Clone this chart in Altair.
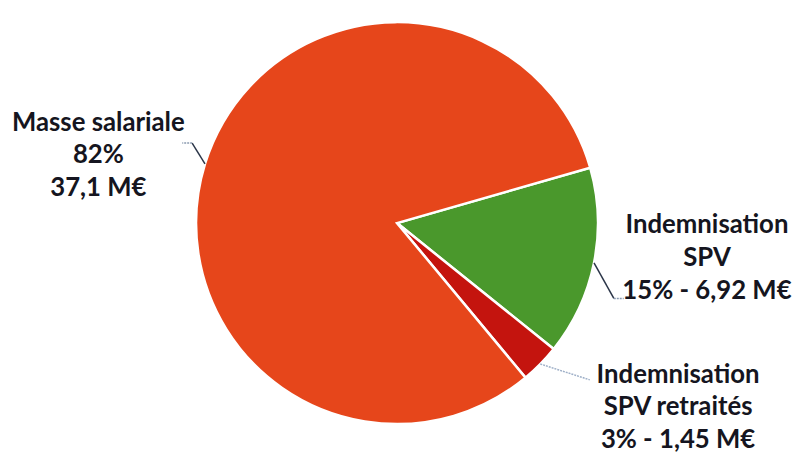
import math
import altair as alt
import pandas as pd

# ---- data ----
categories = ["Indemnisation SPV", "Indemnisation SPV retraités", "Masse salariale"]
values = [6.92, 1.45, 37.1]          # M€
percents = ["15%", "3%", "82%"]
amounts = ["6,92 M€", "1,45 M€", "37,1 M€"]
label_texts = [
    "Indemnisation\nSPV\n15% - 6,92 M€",
    "Indemnisation\nSPV retraités\n3% - 1,45 M€",
    "Masse salariale\n82%\n37,1 M€",
]
slice_colors = ["#4A982C", "#C4140E", "#E6461B"]

# ---- layout / style constants ----
W, H = 786, 430            # centre of pie = (W/2, H/2)
R = 203
START = math.radians(74)   # angle where the first slice starts
FONT = "Lato"

df = pd.DataFrame({
    "cat": categories,
    "value": values,
    "order": list(range(len(categories))),
    "label": label_texts,
})

theta_scale = alt.Scale(range=[START, START + 2 * math.pi])
color_scale = alt.Scale(domain=categories, range=slice_colors)

arcs = alt.Chart(df).mark_arc(outerRadius=R, stroke="white", strokeWidth=2.5).encode(
    theta=alt.Theta("value:Q", stack=True, scale=theta_scale),
    order=alt.Order("order:Q"),
    color=alt.Color("cat:N", scale=color_scale, legend=None),
)

def label_layer(cat, radius, dx, dy):
    return (
        alt.Chart(df)
        .transform_stack(stack="value", groupby=[], sort=[alt.SortField("order")], as_=["t0", "t1"])
        .transform_calculate(mid="(datum.t0 + datum.t1) / 2")
        .transform_filter(alt.datum.cat == cat)
        .mark_text(font=FONT, fontSize=26, fontWeight="bold", color="#151520",
                   lineBreak="\n", lineHeight=33, align="center", baseline="middle",
                   dx=dx, dy=dy)
        .encode(theta=alt.Theta("mid:Q", stack=False), radius=alt.value(radius), text="label:N")
    )

labels = [
    label_layer("Masse salariale", 300, -15, -13),
    label_layer("Indemnisation SPV", 300, 19, -57),
    label_layer("Indemnisation SPV retraités", 300, 70, -57),
]

# ---- leader lines, computed from the slice mid-angles ----
total = sum(values)
cx, cy = W / 2, H / 2
mids = []
acc = 0.0
for v in values:
    a = START + 2 * math.pi * (acc + v / 2) / total
    mids.append(a)
    acc += v
elbows = {  # (first segment offset, second segment offset)
    "Indemnisation SPV": ((20, 36), (10, 0)),
    "Indemnisation SPV retraités": ((50, 16), None),
    "Masse salariale": ((-13, -21), (-10, 0)),
}
rows = []
for cat, a in zip(categories, mids):
    sx, sy = cx + R * math.sin(a), cy - R * math.cos(a)
    (o1, o2) = elbows[cat]
    ex, ey = sx + o1[0], sy + o1[1]
    light = cat == "Indemnisation SPV retraités"
    rows.append({"x": sx, "y": sy, "x2": ex, "y2": ey, "kind": "light" if light else "solid"})
    if o2:
        rows.append({"x": ex, "y": ey, "x2": ex + o2[0], "y2": ey + o2[1], "kind": "dot"})
lead = pd.DataFrame(rows)

def rule_layer(kind, color, width, dash=None):
    kw = dict(color=color, strokeWidth=width)
    if dash:
        kw["strokeDash"] = dash
    return alt.Chart(lead).transform_filter(alt.datum.kind == kind).mark_rule(**kw).encode(
        x=alt.X("x:Q", scale=None, axis=None),
        y=alt.Y("y:Q", scale=None, axis=None),
        x2="x2:Q", y2="y2:Q",
    )

leaders = [
    rule_layer("solid", "#2b3548", 1.5),
    rule_layer("dot", "#8a9ab0", 1.5, [2, 1]),
    rule_layer("light", "#9fb0c8", 1.5, [2, 1]),
]

chart = alt.layer(arcs, *leaders, *labels).properties(
    width=W, height=H,
    autosize=alt.AutoSizeParams(type="none"),
    padding={"left": 0, "top": 0, "right": 6, "bottom": 17},
).configure(background="white", view=alt.ViewConfig(stroke=None))

chart.save("out.html", embed_options={"renderer": "svg", "actions": False})
